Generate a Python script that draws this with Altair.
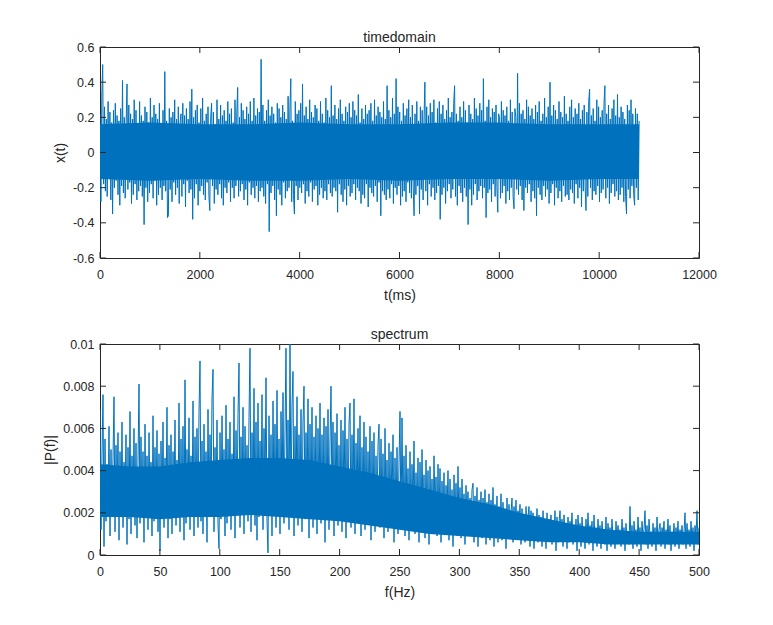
import altair as alt
import pandas as pd

# ---- data ----
T_END = 10800          # last sample time (ms)
F_END = 500            # last frequency bin (Hz)

x_values = [
    0.22, -0.28, 0.32, 0.50, -0.18, 0.26, -0.22, 0.19, -0.25, 0.29, -0.15, 0.23, -0.27, 0.17, -0.35, 0.24, -0.20, 0.28, -0.16, 0.21,
    -0.24, 0.18, -0.30, 0.25, -0.19, 0.41, -0.23, 0.20, -0.26, 0.16, 0.39, -0.21, 0.27, -0.17, 0.22, -0.29, 0.19, -0.24, 0.30, -0.18,
    0.24, -0.27, 0.16, -0.22, 0.29, -0.19, 0.21, -0.25, 0.18, -0.41, 0.26, -0.20, 0.23, -0.28, 0.17, -0.23, 0.31, -0.18, 0.20, -0.26,
    0.27, -0.16, 0.22, -0.30, 0.19, -0.24, 0.28, -0.20, 0.15, -0.27, 0.24, -0.19, 0.46, -0.22, 0.18, -0.37, -0.36, 0.25, -0.21, 0.20,
    -0.28, 0.23, -0.17, 0.30, -0.24, 0.19, -0.20, 0.26, -0.29, 0.17, 0.22, -0.25, 0.28, -0.18, 0.21, -0.31, 0.25, -0.16, 0.19, -0.23,
    0.29, -0.21, 0.36, -0.38, 0.20, -0.26, 0.24, -0.18, 0.27, -0.30, 0.17, -0.22, 0.25, -0.19, 0.31, -0.24, 0.18, -0.27, 0.22, -0.17,
    0.26, -0.25, -0.33, 0.20, 0.28, -0.19, 0.23, -0.29, 0.16, -0.21, 0.30, -0.24, 0.19, -0.18, 0.27, -0.26, 0.21, -0.30, 0.24, -0.20,
    0.18, -0.23, 0.29, -0.17, 0.22, -0.28, 0.25, -0.20, 0.17, -0.26, 0.30, -0.19, 0.23, 0.37, -0.25, 0.20, -0.22, 0.28, -0.18, 0.24,
    -0.27, 0.19, -0.21, 0.26, -0.30, 0.22, -0.17, 0.29, -0.24, 0.18, -0.20, 0.31, -0.26, 0.21, -0.19, 0.25, -0.28, 0.23, -0.22, 0.53,
    -0.20, 0.27, -0.25, 0.18, -0.29, 0.24, -0.18, 0.30, -0.45, 0.21, -0.23, 0.26, -0.19, 0.22, -0.27, 0.17, -0.36, 0.28, -0.21, 0.25,
    -0.24, 0.20, -0.30, 0.27, -0.17, 0.23, -0.26, 0.19, -0.22, 0.32, -0.20, 0.25, 0.42, -0.28, 0.18, -0.24, -0.35, 0.29, -0.19, 0.22,
    -0.27, 0.24, -0.20, 0.28, -0.23, 0.39, -0.18, 0.21, -0.29, 0.26, -0.22, 0.19, -0.25, 0.30, -0.17, 0.23, -0.28, 0.20, -0.21, 0.27,
    -0.19, 0.25, -0.30, 0.18, -0.24, 0.29, -0.20, 0.22, -0.26, 0.17, -0.22, 0.31, -0.27, 0.24, -0.18, 0.20, -0.23, 0.38, -0.25, 0.21,
    -0.20, 0.27, -0.22, 0.19, -0.34, 0.25, -0.18, 0.30, -0.24, 0.22, -0.28, 0.18, -0.21, 0.26, -0.30, 0.23, -0.19, 0.28, -0.25, 0.20,
    -0.23, 0.29, -0.18, 0.24, -0.27, 0.21, -0.20, 0.33, -0.22, 0.17, -0.29, 0.25, -0.24, 0.19, -0.26, 0.27, -0.18, 0.22, -0.31, 0.24,
    -0.20, 0.28, -0.23, 0.18, -0.25, 0.30, -0.19, 0.21, -0.28, 0.26, -0.17, 0.23, -0.36, 0.20, -0.22, 0.29, -0.24, 0.19, -0.27, 0.38,
    -0.21, 0.24, -0.26, 0.20, -0.18, 0.31, -0.29, 0.22, -0.20, 0.42, -0.24, 0.26, -0.19, 0.23, -0.30, 0.18, -0.25, 0.28, -0.22, 0.21,
    -0.28, 0.25, -0.17, 0.30, -0.23, 0.20, -0.26, 0.27, -0.20, -0.36, 0.22, -0.24, 0.29, -0.19, 0.18, -0.35, 0.26, -0.21, 0.24, -0.27,
    0.19, 0.40, -0.22, 0.26, -0.30, 0.21, -0.18, 0.28, -0.25, 0.23, -0.20, 0.30, -0.27, 0.17, -0.23, 0.25, -0.19, 0.29, -0.38, 0.22,
    -0.24, 0.27, -0.20, 0.19, -0.29, 0.24, -0.22, 0.31, -0.18, 0.20, -0.26, 0.23, -0.21, 0.28, 0.38, -0.25, 0.22, -0.30, 0.18, -0.19,
    0.26, -0.23, 0.20, -0.28, 0.29, -0.20, 0.24, -0.25, 0.17, -0.41, 0.27, -0.21, 0.22, -0.30, 0.19, -0.24, 0.31, -0.18, 0.25, -0.27,
    0.21, -0.22, 0.28, -0.19, 0.24, -0.26, 0.42, -0.20, 0.18, -0.37, 0.26, -0.23, 0.30, -0.21, 0.20, -0.28, 0.25, -0.18, 0.23, -0.25,
    0.27, -0.20, -0.34, 0.22, 0.19, -0.26, 0.29, -0.23, 0.24, -0.19, 0.21, -0.29, 0.26, -0.22, 0.18, -0.27, 0.30, -0.20, 0.23, -0.25,
    -0.32, 0.25, 0.20, -0.21, 0.45, -0.24, 0.28, -0.19, 0.22, -0.27, 0.24, -0.33, 0.19, -0.20, 0.30, -0.23, 0.26, -0.18, 0.21, -0.28,
    0.25, -0.22, 0.19, -0.26, 0.27, -0.36, 0.23, -0.20, 0.29, -0.24, 0.18, -0.27, 0.22, -0.19, 0.31, -0.25, 0.20, -0.21, 0.26, -0.29,
    0.40, -0.23, 0.21, -0.18, 0.27, -0.30, 0.24, -0.20, 0.19, -0.26, 0.29, -0.22, 0.23, -0.28, 0.20, -0.19, 0.32, -0.25, 0.22, -0.24,
    0.18, -0.27, 0.26, -0.21, 0.30, -0.23, 0.20, -0.29, 0.25, -0.18, 0.22, -0.26, 0.28, -0.20, 0.19, -0.31, 0.24, -0.22, 0.27, -0.19,
    -0.33, 0.23, -0.25, 0.29, 0.36, -0.20, 0.21, -0.27, 0.25, -0.22, 0.18, -0.24, 0.30, -0.19, 0.26, -0.28, 0.20, -0.23, 0.24, -0.21,
    0.28, 0.38, -0.26, 0.22, -0.20, 0.27, -0.29, 0.19, -0.23, 0.25, -0.18, 0.30, -0.25, 0.21, -0.22, 0.33, -0.27, 0.20, -0.24, 0.26,
    -0.20, 0.23, -0.28, 0.19, -0.25, -0.35, 0.27, -0.21, 0.24, -0.26, 0.30, -0.19, 0.22, -0.24, -0.30, 0.25, -0.20, 0.22, -0.27, 0.18,
]

# solid (dense) core of the time signal, read every 1000 ms
core_x_hi = [0.16, 0.17, 0.16, 0.16, 0.17, 0.16, 0.16, 0.17, 0.17, 0.16, 0.16, 0.16]
core_x_lo = [-0.15, -0.16, -0.15, -0.16, -0.16, -0.15, -0.16, -0.15, -0.15, -0.16, -0.15, -0.15]
core_t = [0, 1000, 2000, 3000, 4000, 5000, 6000, 7000, 8000, 9000, 10000, T_END]

p_values = [
    0.0069, 0.0012, 0.0048, 0.0076, 0.0004, 0.0055, 0.0016, 0.0043, 0.0021, 0.0061, 0.0009, 0.0050, 0.0018, 0.0046, 0.0075, 0.0011, 0.0052, 0.0024, 0.0058, 0.0007,
    0.0049, 0.0019, 0.0063, 0.0013, 0.0044, 0.0026, 0.0057, 0.0005, 0.0051, 0.0017, 0.0068, 0.0010, 0.0047, 0.0022, 0.0060, 0.0014, 0.0053, 0.0008, 0.0045, 0.0081,
    0.0015, 0.0056, 0.0020, 0.0049, 0.0006, 0.0062, 0.0018, 0.0047, 0.0012, 0.0058, 0.0025, 0.0044, 0.0009, 0.0066, 0.0016, 0.0051, 0.0021, 0.0059, 0.0011, 0.0048,
    0.0002, 0.0054, 0.0019, 0.0063, 0.0013, 0.0046, 0.0023, 0.0070, 0.0008, 0.0052, 0.0017, 0.0057, 0.0010, 0.0049, 0.0027, 0.0064, 0.0014, 0.0045, 0.0020, 0.0072,
    0.0011, 0.0055, 0.0018, 0.0061, 0.0007, 0.0083, 0.0015, 0.0050, 0.0024, 0.0065, 0.0012, 0.0047, 0.0019, 0.0073, 0.0009, 0.0056, 0.0022, 0.0060, 0.0013, 0.0068,
    0.0092, 0.0016, 0.0054, 0.0010, 0.0062, 0.0021, 0.0049, 0.0006, 0.0069, 0.0018, 0.0057, 0.0025, 0.0074, 0.0088, 0.0011, 0.0051, 0.0020, 0.0064, 0.0014, 0.0003,
    0.0058, 0.0017, 0.0066, 0.0023, 0.0050, 0.0009, 0.0071, 0.0015, 0.0055, 0.0026, 0.0063, 0.0012, 0.0048, 0.0019, 0.0075, 0.0008, 0.0059, 0.0022, 0.0067, 0.0091,
    0.0013, 0.0056, 0.0020, 0.0070, 0.0010, 0.0061, 0.0027, 0.0052, 0.0016, 0.0065, 0.0098, 0.0011, 0.0058, 0.0024, 0.0079, 0.0014, 0.0063, 0.0007, 0.0072, 0.0018,
    0.0054, 0.0021, 0.0076, 0.0012, 0.0060, 0.0028, 0.0084, 0.0016, 0.0001, 0.0066, 0.0019, 0.0057, 0.0009, 0.0073, 0.0023, 0.0062, 0.0013, 0.0078, 0.0020, 0.0055,
    0.0010, 0.0068, 0.0025, 0.0077, 0.0015, 0.0059, 0.0098, 0.0022, 0.0064, 0.0012, 0.0100, 0.0018, 0.0071, 0.0087, 0.0009, 0.0061, 0.0026, 0.0075, 0.0014, 0.0057,
    0.0021, 0.0069, 0.0011, 0.0063, 0.0080, 0.0017, 0.0058, 0.0024, 0.0074, 0.0008, 0.0062, 0.0019, 0.0070, 0.0013, 0.0056, 0.0027, 0.0066, 0.0010, 0.0060, 0.0022,
    0.0072, 0.0015, 0.0057, 0.0023, 0.0065, 0.0006, 0.0061, 0.0018, 0.0069, 0.0012, 0.0054, 0.0080, 0.0020, 0.0063, 0.0009, 0.0058, 0.0025, 0.0067, 0.0014, 0.0052,
    0.0019, 0.0064, 0.0011, 0.0059, 0.0024, 0.0070, 0.0008, 0.0055, 0.0017, 0.0062, 0.0072, 0.0013, 0.0057, 0.0021, 0.0074, 0.0010, 0.0053, 0.0026, 0.0060, 0.0015,
    0.0066, 0.0009, 0.0051, 0.0022, 0.0063, 0.0012, 0.0056, 0.0018, 0.0049, 0.0025, 0.0061, 0.0007, 0.0054, 0.0016, 0.0058, 0.0011, 0.0047, 0.0020, 0.0052, 0.0062,
    0.0013, 0.0055, 0.0019, 0.0048, 0.0008, 0.0060, 0.0021, 0.0045, 0.0011, 0.0053, 0.0015, 0.0049, 0.0024, 0.0057, 0.0006, 0.0046, 0.0017, 0.0051, 0.0010, 0.0044,
    0.0068, 0.0012, 0.0065, 0.0018, 0.0047, 0.0009, 0.0052, 0.0020, 0.0041, 0.0007, 0.0049, 0.0014, 0.0043, 0.0022, 0.0054, 0.0010, 0.0039, 0.0016, 0.0046, 0.0006,
    0.0044, 0.0013, 0.0050, 0.0019, 0.0038, 0.0008, 0.0045, 0.0015, 0.0040, 0.0005, 0.0042, 0.0017, 0.0036, 0.0011, 0.0047, 0.0021, 0.0037, 0.0009, 0.0043, 0.0014,
    0.0041, 0.0006, 0.0035, 0.0016, 0.0039, 0.0010, 0.0033, 0.0019, 0.0040, 0.0007, 0.0036, 0.0012, 0.0031, 0.0004, 0.0038, 0.0015, 0.0034, 0.0009, 0.0042, 0.0013,
    0.0032, 0.0008, 0.0036, 0.0014, 0.0029, 0.0005, 0.0033, 0.0017, 0.0030, 0.0009, 0.0027, 0.0012, 0.0031, 0.0034, 0.0006, 0.0028, 0.0011, 0.0032, 0.0004, 0.0026,
    0.0015, 0.0030, 0.0008, 0.0027, 0.0012, 0.0031, 0.0005, 0.0025, 0.0013, 0.0029, 0.0007, 0.0026, 0.0010, 0.0032, 0.0004, 0.0024, 0.0014, 0.0028, 0.0006, 0.0023,
    0.0011, 0.0029, 0.0007, 0.0025, 0.0013, 0.0022, 0.0003, 0.0027, 0.0009, 0.0024, 0.0012, 0.0020, 0.0027, 0.0006, 0.0023, 0.0011, 0.0026, 0.0008, 0.0021, 0.0014,
    0.0024, 0.0005, 0.0022, 0.0010, 0.0019, 0.0006, 0.0023, 0.0012, 0.0018, 0.0023, 0.0004, 0.0021, 0.0009, 0.0020, 0.0003, 0.0017, 0.0011, 0.0022, 0.0006, 0.0019,
    0.0008, 0.0018, 0.0004, 0.0021, 0.0010, 0.0016, 0.0003, 0.0020, 0.0007, 0.0017, 0.0012, 0.0019, 0.0005, 0.0016, 0.0009, 0.0021, 0.0002, 0.0018, 0.0006, 0.0015,
    0.0021, 0.0008, 0.0017, 0.0004, 0.0019, 0.0010, 0.0015, 0.0003, 0.0018, 0.0006, 0.0016, 0.0011, 0.0020, 0.0005, 0.0014, 0.0008, 0.0017, 0.0002, 0.0019, 0.0007,
    0.0015, 0.0004, 0.0018, 0.0009, 0.0013, 0.0003, 0.0017, 0.0006, 0.0020, 0.0005, 0.0014, 0.0010, 0.0016, 0.0002, 0.0019, 0.0007, 0.0013, 0.0004, 0.0017, 0.0008,
    0.0014, 0.0003, 0.0016, 0.0009, 0.0012, 0.0005, 0.0018, 0.0002, 0.0015, 0.0007, 0.0013, 0.0004, 0.0017, 0.0008, 0.0011, 0.0003, 0.0016, 0.0006, 0.0014, 0.0009,
    0.0012, 0.0004, 0.0017, 0.0007, 0.0013, 0.0002, 0.0015, 0.0008, 0.0011, 0.0005, 0.0023, 0.0006, 0.0014, 0.0003, 0.0016, 0.0009, 0.0012, 0.0004, 0.0018, 0.0007,
    0.0013, 0.0002, 0.0016, 0.0008, 0.0012, 0.0021, 0.0005, 0.0014, 0.0003, 0.0017, 0.0009, 0.0011, 0.0004, 0.0015, 0.0007, 0.0013, 0.0002, 0.0018, 0.0006, 0.0012,
    0.0015, 0.0004, 0.0013, 0.0009, 0.0016, 0.0003, 0.0012, 0.0007, 0.0017, 0.0005, 0.0014, 0.0002, 0.0011, 0.0008, 0.0015, 0.0004, 0.0013, 0.0006, 0.0016, 0.0003,
    0.0012, 0.0008, 0.0014, 0.0005, 0.0011, 0.0020, 0.0003, 0.0015, 0.0007, 0.0012, 0.0004, 0.0016, 0.0006, 0.0013, 0.0002, 0.0014, 0.0009, 0.0021, 0.0005, 0.0013,
]

# solid (dense) core of the spectrum, read every 25 Hz
core_p_hi = [0.0043, 0.0042, 0.0042, 0.0044, 0.0045, 0.0046, 0.0046, 0.0045, 0.0042, 0.0039, 0.0035,
             0.0031, 0.0027, 0.0024, 0.0020, 0.0017, 0.0014, 0.0012, 0.0011, 0.0011, 0.0011]
core_p_lo = [0.0018, 0.0018, 0.0017, 0.0018, 0.0018, 0.0019, 0.0018, 0.0017, 0.0016, 0.0014, 0.0012,
             0.0010, 0.0009, 0.0008, 0.0007, 0.0006, 0.0006, 0.0005, 0.0005, 0.0005, 0.0005]
core_f = [0, 25, 50, 75, 100, 125, 150, 175, 200, 225, 250, 275, 300, 325, 350, 375, 400, 425, 450, 475, 500]

t_ticks = [0, 2000, 4000, 6000, 8000, 10000, 12000]
x_ticks = [-0.6, -0.4, -0.2, 0, 0.2, 0.4, 0.6]
f_ticks = [0, 50, 100, 150, 200, 250, 300, 350, 400, 450, 500]
p_ticks = [0, 0.002, 0.004, 0.006, 0.008, 0.01]

t_ms = [i * T_END / (len(x_values) - 1) for i in range(len(x_values))]
f_hz = [i * F_END / (len(p_values) - 1) for i in range(len(p_values))]

W, H = 599, 211
TXT = "#262626"
BLUE = "#0072BD"
FONT = "Liberation Sans"
TICK = 6


def panel(xs, ys, cx, clo, chi, xdom, ydom, xt, yt, title, xtitle, ytitle):
    df = pd.DataFrame({"x": xs, "y": ys})
    cdf = pd.DataFrame({"x": cx, "y": clo, "y2": chi})
    xsc = alt.Scale(domain=xdom, nice=False, zero=False)
    ysc = alt.Scale(domain=ydom, nice=False, zero=False)
    xax = alt.Axis(values=xt, title=xtitle, labelExpr="datum.value + ''", ticks=False,
                   domain=False, grid=False, labelPadding=10, titlePadding=8,
                   labelFlush=False)
    yax = alt.Axis(values=yt, title=ytitle, labelExpr="datum.value + ''", ticks=False,
                   domain=False, grid=False, labelPadding=6, titlePadding=5,
                   labelFlush=False)
    core = alt.Chart(cdf).mark_area(color=BLUE, opacity=1, clip=True).encode(
        x=alt.X("x:Q", scale=xsc, axis=xax),
        y=alt.Y("y:Q", scale=ysc, axis=yax),
        y2="y2:Q",
    )
    line = alt.Chart(df).mark_line(color=BLUE, strokeWidth=1.0, clip=True).encode(
        x=alt.X("x:Q", scale=xsc, axis=xax),
        y=alt.Y("y:Q", scale=ysc, axis=yax),
    )
    xdf = pd.DataFrame({"x": xt})
    ydf = pd.DataFrame({"y": yt})
    xb = alt.Chart(xdf).mark_rule(color=TXT, strokeWidth=1).encode(
        x=alt.X("x:Q", scale=xsc, axis=xax), y=alt.value(H), y2=alt.value(H - TICK))
    xtp = alt.Chart(xdf).mark_rule(color=TXT, strokeWidth=1).encode(
        x=alt.X("x:Q", scale=xsc, axis=xax), y=alt.value(0), y2=alt.value(TICK))
    yl = alt.Chart(ydf).mark_rule(color=TXT, strokeWidth=1).encode(
        y=alt.Y("y:Q", scale=ysc, axis=yax), x=alt.value(0), x2=alt.value(TICK))
    yr = alt.Chart(ydf).mark_rule(color=TXT, strokeWidth=1).encode(
        y=alt.Y("y:Q", scale=ysc, axis=yax), x=alt.value(W), x2=alt.value(W - TICK))
    return alt.layer(core, line, xb, xtp, yl, yr).properties(
        width=W, height=H,
        title=alt.TitleParams(title, font=FONT, fontSize=14, fontWeight="normal",
                              color=TXT, offset=-4),
    )


top = panel(t_ms, x_values, core_t, core_x_lo, core_x_hi, [0, 12000], [-0.6, 0.6],
            t_ticks, x_ticks, "timedomain", "t(ms)", "x(t)")
bottom = panel(f_hz, p_values, core_f, core_p_lo, core_p_hi, [0, 500], [0, 0.01],
               f_ticks, p_ticks, "spectrum", "f(Hz)", "|P(f)|")

chart = alt.vconcat(top, bottom, spacing=24).properties(
    padding={"left": 35, "top": 22, "right": 10, "bottom": 5},
    background="white",
).configure_view(stroke=TXT, strokeWidth=1).configure_axis(
    labelFont=FONT, labelFontSize=12.5, labelColor=TXT,
    titleFont=FONT, titleFontSize=14, titleFontWeight="normal", titleColor=TXT,
)

chart.save("out.html", embed_options={"renderer": "svg", "actions": False})
